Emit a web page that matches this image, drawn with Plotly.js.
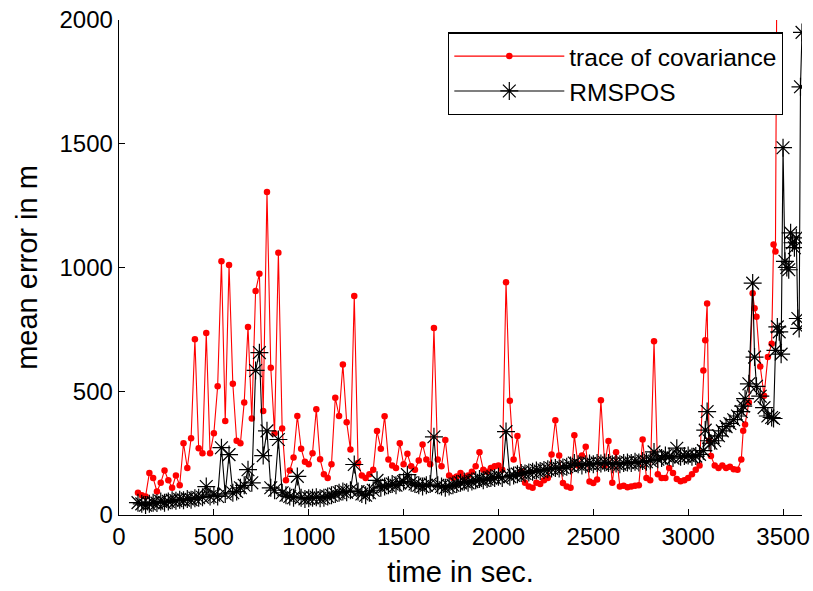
<!DOCTYPE html>
<html>
<head>
<meta charset="utf-8">
<script src="https://cdn.plot.ly/plotly-3.0.1.min.js"></script>
<style>html,body{margin:0;padding:0;background:#fff;}#chart{width:813px;height:591px;}</style>
</head>
<body>
<div id="chart"></div>
<script>
// time stamps in seconds
const timeSec = [
  100,120,140,160,180,200,220,240,260,280,
  300,320,340,360,380,400,420,440,460,480,
  500,520,540,560,580,600,620,640,660,680,
  700,720,740,760,780,800,820,840,860,880,
  900,920,940,960,980,1000,1020,1040,1060,1080,
  1100,1120,1140,1160,1180,1200,1220,1240,1260,1280,
  1300,1320,1340,1360,1380,1400,1420,1440,1460,1480,
  1500,1520,1540,1560,1580,1600,1620,1640,1660,1680,
  1700,1720,1740,1760,1780,1800,1820,1840,1860,1880,
  1900,1920,1940,1960,1980,2000,2020,2040,2060,2080,
  2100,2120,2140,2160,2180,2200,2220,2240,2260,2280,
  2300,2320,2340,2360,2380,2400,2420,2440,2460,2480,
  2500,2520,2540,2560,2580,2600,2620,2640,2660,2680,
  2700,2720,2740,2760,2780,2800,2820,2840,2860,2880,
  2900,2920,2940,2960,2980,3000,3020,3040,3060,
  3080,3090,3100,3110,3120,3140,3160,3180,3200,3220,
  3240,3260,3280,3290,3300,3320,3340,3350,3360,3380,
  3400,3420,3440,3450,3460,3470,3480,3490,3500,3510,
  3520,3530,3540,3550,3560,3570,3578,3585,3592,3600
];

// trace of covariance (m)
const traceCov = [
  90,80,75,170,150,95,130,180,140,110,
  160,120,290,190,310,710,270,250,735,250,
  330,520,1025,380,1010,530,300,290,455,760,
  390,905,975,420,1305,595,330,1060,350,140,
  180,232,400,268,215,205,250,427,225,165,
  150,205,474,400,608,375,265,885,210,160,
  150,165,183,339,268,399,224,200,190,290,
  205,247,197,183,220,285,224,205,756,224,
  197,303,160,150,156,170,150,160,175,197,
  254,183,175,190,197,200,183,940,462,224,
  319,176,130,115,110,130,125,140,149,244,
  383,240,129,115,110,322,200,240,276,135,
  129,143,464,200,299,130,254,115,118,112,
  115,118,120,305,150,140,702,165,150,149,
  190,170,145,136,140,150,165,183,200,
  584,706,855,300,238,200,190,200,190,195,
  185,183,224,340,366,455,896,835,801,600,
  482,638,692,1093,1065,2600,null,null,null,null,
  null,null,null,null,null,null,null,null,null,null
];

// RMSPOS (m)
const rmsPos = [
  50,45,40,45,50,48,55,50,55,60,
  58,62,60,65,62,68,70,72,115,75,
  80,75,272,85,244,90,95,110,120,183,
  130,584,656,240,340,110,100,305,90,80,
  75,70,156,70,65,68,70,72,68,70,
  75,80,85,90,95,92,100,204,95,85,
  80,90,100,140,110,115,120,125,120,130,
  135,163,130,125,120,115,120,125,316,120,
  115,110,115,120,125,130,135,130,135,140,
  145,140,145,150,150,155,150,337,155,160,
  165,170,168,172,175,180,178,182,185,188,
  190,188,192,195,200,210,205,200,205,208,
  205,210,208,212,210,205,208,205,210,212,
  210,215,212,218,215,220,255,225,230,240,
  235,230,270,235,238,240,235,238,245,
  260,343,418,300,290,300,320,340,357,370,
  385,400,418,440,470,530,937,638,520,480,
  434,400,394,390,665,760,740,650,1484,1025,
  1000,991,1140,1100,1080,1120,794,754,1730,1950
];

const xTicks = [0,500,1000,1500,2000,2500,3000,3500];
const yTicks = [0,500,1000,1500,2000];

const fontFam = '"Liberation Sans", Arial, Helvetica, sans-serif';

const traces = [
  {
    x: timeSec, y: traceCov, name: 'trace of covariance',
    type: 'scatter', mode: 'lines+markers',
    line: {color: '#ff0000', width: 1.1},
    marker: {color: '#ff0000', size: 6.5, symbol: 'circle'}
  },
  {
    x: timeSec, y: rmsPos, name: 'RMSPOS',
    type: 'scatter', mode: 'lines+markers',
    line: {color: '#000000', width: 1.1},
    marker: {color: '#000000', size: 15, symbol: 'asterisk-open', line: {color: '#000000', width: 1.2}}
  }
];

const layout = {
  width: 813, height: 591,
  paper_bgcolor: '#ffffff', plot_bgcolor: '#ffffff',
  margin: {l: 119, r: 11, t: 20, b: 76},
  font: {family: fontFam, color: '#000', size: 24},
  showlegend: true,
  legend: {
    x: 0.4817, y: 0.975, xanchor: 'left', yanchor: 'top',
    bgcolor: '#ffffff', bordercolor: '#000000', borderwidth: 1.3,
    font: {family: fontFam, size: 24.5, color: '#000'},
    itemwidth: 110, tracegroupgap: 0
  },
  xaxis: {
    range: [0, 3600], tickvals: xTicks, ticktext: xTicks.map(String),
    ticks: 'inside', ticklen: 6, tickwidth: 1, tickcolor: '#000',
    showline: true, linecolor: '#000', linewidth: 1.3, mirror: false,
    showgrid: false, zeroline: false,
    tickfont: {family: fontFam, size: 24, color: '#000'},
    title: {text: 'time in sec.', font: {family: fontFam, size: 29, color: '#000'}, standoff: 12}
  },
  yaxis: {
    range: [0, 2000], tickvals: yTicks, ticktext: yTicks.map(String),
    ticks: 'inside', ticklen: 6, tickwidth: 1, tickcolor: '#000',
    showline: true, linecolor: '#000', linewidth: 1.3, mirror: false,
    showgrid: false, zeroline: false,
    tickfont: {family: fontFam, size: 24, color: '#000'},
    title: {text: 'mean error in m', font: {family: fontFam, size: 29, color: '#000'}, standoff: 13}
  }
};

Plotly.newPlot('chart', traces, layout, {staticPlot: true, displayModeBar: false});
</script>
</body>
</html>
